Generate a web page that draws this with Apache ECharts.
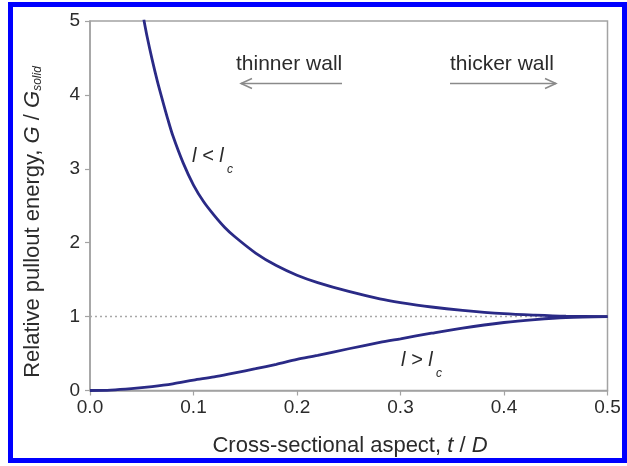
<!DOCTYPE html>
<html>
<head>
<meta charset="utf-8">
<script src="https://cdn.jsdelivr.net/npm/echarts@6/dist/echarts.min.js"></script>
<style>
html,body{margin:0;padding:0;background:#fff;}
#c{width:627px;height:466px;}
</style>
</head>
<body>
<div id="c"></div>
<script>
// ---- data ----
const xTicks = [0.0, 0.1, 0.2, 0.3, 0.4, 0.5];
const yTicks = [0, 1, 2, 3, 4, 5];
// l < lc curve
const tUpper = [0.052,0.055,0.06,0.065,0.07,0.075,0.08,0.09,0.10,0.11,0.12,0.13,0.14,0.16,0.18,0.20,0.22,0.25,0.28,0.30,0.33,0.36,0.40,0.43,0.46,0.50];
const gUpper = [5.02,4.80,4.48,4.19,3.93,3.68,3.45,3.08,2.78,2.55,2.37,2.21,2.08,1.86,1.69,1.56,1.46,1.34,1.24,1.19,1.13,1.085,1.04,1.02,1.006,1.0];
// l > lc curve
const tLower = [0,0.02,0.04,0.06,0.08,0.10,0.12,0.14,0.16,0.18,0.20,0.22,0.25,0.28,0.30,0.33,0.36,0.40,0.43,0.46,0.50];
const gLower = [0,0.006,0.025,0.053,0.09,0.14,0.185,0.24,0.295,0.355,0.42,0.475,0.565,0.65,0.70,0.775,0.845,0.92,0.96,0.988,1.0];
// reference level G = Gsolid
const refT = [0, 0.5];
const refG = [1, 1];

const zip = (a, b) => a.map((v, i) => [v, b[i]]);

const FONT = '"Liberation Sans", Arial, sans-serif';
const TXT = '#2b2b2b';
const AX = '#a3a3a3';
const CURVE = '#2a2a86';

const chart = echarts.init(document.getElementById('c'), null, {renderer: 'canvas'});
chart.setOption({
  animation: false,
  backgroundColor: '#ffffff',
  grid: {left: 90, right: 19.5, top: 21, bottom: 75.5, show: true, borderColor: AX, borderWidth: 1.5, backgroundColor: 'transparent'},
  xAxis: {
    type: 'value', min: xTicks[0], max: xTicks[xTicks.length - 1], interval: 0.1,
    axisLine: {show: true, lineStyle: {color: AX, width: 1.5}},
    axisTick: {show: true, length: 5, lineStyle: {color: AX, width: 1.2}},
    splitLine: {show: false},
    axisLabel: {margin: 8, fontFamily: FONT, fontSize: 19, color: TXT, formatter: v => v.toFixed(1)}
  },
  yAxis: {
    type: 'value', min: yTicks[0], max: yTicks[yTicks.length - 1], interval: 1,
    axisLine: {show: true, lineStyle: {color: AX, width: 1.5}},
    axisTick: {show: true, length: 5, lineStyle: {color: AX, width: 1.2}},
    splitLine: {show: false},
    axisLabel: {margin: 10, fontFamily: FONT, fontSize: 19, color: TXT}
  },
  series: [
    {type: 'line', data: zip(refT, refG), symbol: 'none', silent: true,
     lineStyle: {color: '#a8a8a8', width: 1.5, type: [2, 3]}, z: 1},
    {type: 'line', data: zip(tUpper, gUpper), symbol: 'none', smooth: 0.3, clip: true,
     lineStyle: {color: CURVE, width: 2.8}, z: 3},
    {type: 'line', data: zip(tLower, gLower), symbol: 'none', smooth: 0.3, clip: true,
     lineStyle: {color: CURVE, width: 2.8}, z: 3}
  ],
  graphic: [
    // blue frame
    {type: 'rect', shape: {x: 10.5, y: 4.5, width: 614, height: 456}, style: {fill: 'none', stroke: '#0000ff', lineWidth: 5}, z: 100},
    // annotations
    {type: 'text', x: 236, y: 64, style: {text: 'thinner wall', font: '21px ' + FONT, fill: TXT, textVerticalAlign: 'middle'}},
    {type: 'text', x: 450, y: 64, style: {text: 'thicker wall', font: '21px ' + FONT, fill: TXT, textVerticalAlign: 'middle'}},
    {type: 'line', shape: {x1: 241, y1: 83.5, x2: 342, y2: 83.5}, style: {stroke: '#8a8a8a', lineWidth: 1.5}},
    {type: 'polyline', shape: {points: [[252, 78.5], [241, 83.5], [252, 88.5]]}, style: {stroke: '#8a8a8a', lineWidth: 1.5, fill: 'none'}},
    {type: 'line', shape: {x1: 450, y1: 83.5, x2: 556, y2: 83.5}, style: {stroke: '#8a8a8a', lineWidth: 1.5}},
    {type: 'polyline', shape: {points: [[545, 78.5], [556, 83.5], [545, 88.5]]}, style: {stroke: '#8a8a8a', lineWidth: 1.5, fill: 'none'}},
    // curve labels
    {type: 'text', x: 192, y: 156, style: {text: 'l < l', font: 'italic 20px ' + FONT, fill: TXT, textVerticalAlign: 'middle'}},
    {type: 'text', x: 227, y: 170, style: {text: 'c', font: 'italic 12px ' + FONT, fill: TXT, textVerticalAlign: 'middle'}},
    {type: 'text', x: 401, y: 360, style: {text: 'l > l', font: 'italic 20px ' + FONT, fill: TXT, textVerticalAlign: 'middle'}},
    {type: 'text', x: 436, y: 374, style: {text: 'c', font: 'italic 12px ' + FONT, fill: TXT, textVerticalAlign: 'middle'}},
    // x axis name
    {type: 'text', x: 350, y: 446, style: {
      text: '{n|Cross-sectional aspect, }{i|t}{n| / }{i|D}', align: 'center', verticalAlign: 'middle',
      rich: {n: {font: '22px ' + FONT, fill: TXT}, i: {font: 'italic 22px ' + FONT, fill: TXT}}
    }},
    // y axis name (rotated)
    {type: 'group', x: 33, y: 222, rotation: Math.PI / 2, children: [
      {type: 'text', x: 0, y: 0, style: {
        text: '{n|Relative pullout energy, }{i|G}{n| / }{i|G}{s|solid}', align: 'center', verticalAlign: 'middle',
        rich: {
          n: {font: '22px ' + FONT, fill: TXT, lineHeight: 22, verticalAlign: 'top'},
          i: {font: 'italic 22px ' + FONT, fill: TXT, lineHeight: 22, verticalAlign: 'top'},
          s: {font: 'italic 12px ' + FONT, fill: TXT, lineHeight: 12, verticalAlign: 'bottom'}
        }
      }}
    ]}
  ]
});
</script>
</body>
</html>
